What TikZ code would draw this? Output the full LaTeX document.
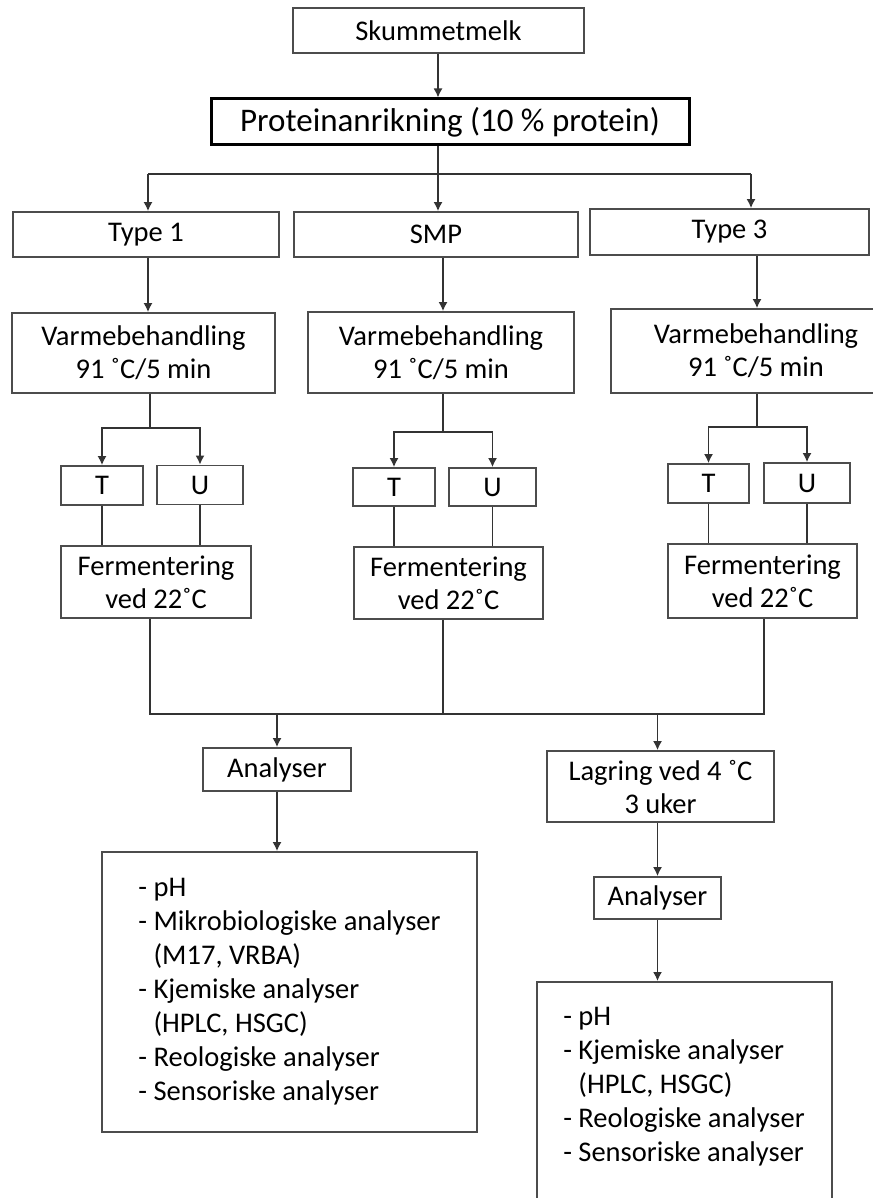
\documentclass[tikz,border=0pt]{standalone}
\usepackage{fontspec}
\setmainfont{Carlito}
\usetikzlibrary{arrows.meta}

\tikzset{
  box/.style={draw=black!70, line width=1.8pt, align=center, inner sep=0pt,
    font=\fontsize{28.5}{33}\selectfont},
  mainbox/.style={box, draw=black, line width=3pt, font=\fontsize{33}{38}\selectfont},
  listbox/.style={box, align=left, font=\fontsize{28.5}{34}\selectfont},
  link/.style={draw=black!80, line width=1.5pt},
  arr/.style={link, -{Latex[length=9pt,width=9pt]}}
}

\begin{document}
\begin{tikzpicture}[x=1pt,y=-1pt]
  \useasboundingbox (0,0) rectangle (872,1198);

  % top
  \node[box, minimum width=291pt, minimum height=45pt] (skim) at (438.5,30.5) {Skummetmelk};
  \node[mainbox, minimum width=478pt, minimum height=46pt] (prot) at (450,122) {Proteinanrikning (10 \% protein)};

  % powder types
  \node[box, minimum width=266pt, minimum height=45pt] (type1) at (146,234.5) {Type 1};
  \node[box, minimum width=284pt, minimum height=45pt] (smp) at (436,234.5) {SMP};
  \node[box, minimum width=279pt, minimum height=46pt] (type3) at (729.5,232) {Type 3};

  % heat treatment
  \node[box, minimum width=263pt, minimum height=80pt] (varme1) at (143.5,353) {Varmebehandling\\91 ˚C/5 min};
  \node[box, minimum width=266pt, minimum height=81pt] (varme2) at (441,352.5) {Varmebehandling\\91 ˚C/5 min};
  \node[box, minimum width=290pt, minimum height=84pt] (varme3) at (756,351) {Varmebehandling\\91 ˚C/5 min};

  % T and U
  \node[box, minimum width=82pt, minimum height=39pt] (t1) at (102,485.5) {T};
  \node[box, minimum width=86pt, minimum height=39pt] (u1) at (200,485) {U};
  \node[box, minimum width=82pt, minimum height=38pt] (t2) at (394,487) {T};
  \node[box, minimum width=87pt, minimum height=38pt] (u2) at (492.5,487) {U};
  \node[box, minimum width=81pt, minimum height=39pt] (t3) at (708.5,483.5) {T};
  \node[box, minimum width=86pt, minimum height=40pt] (u3) at (807,483) {U};

  % fermentation
  \node[box, minimum width=190pt, minimum height=72pt] (ferm1) at (156,582) {Fermentering\\ved 22˚C};
  \node[box, minimum width=189pt, minimum height=72pt] (ferm2) at (448.5,583) {Fermentering\\ved 22˚C};
  \node[box, minimum width=189pt, minimum height=74pt] (ferm3) at (762.5,581) {Fermentering\\ved 22˚C};

  % analyses
  \node[box, minimum width=148pt, minimum height=43pt] (ana1) at (277,769.5) {Analyser};
  \node[box, minimum width=227pt, minimum height=71pt] (lag) at (660.5,786.5) {Lagring ved 4 ˚C\\3 uker};
  \node[box, minimum width=127pt, minimum height=42pt] (ana2) at (657.5,898) {Analyser};
  \node[listbox, minimum width=375pt, minimum height=280pt] (res1) at (289.5,992)
    {- pH\\- Mikrobiologiske analyser\\\hphantom{- }(M17, VRBA)\\- Kjemiske analyser\\\hphantom{- }(HPLC, HSGC)\\- Reologiske analyser\\- Sensoriske analyser};
  \node[box, minimum width=295pt, minimum height=240pt, anchor=north] (res2) at (684.5,981) {};
  \node[listbox, draw=none] (res2txt) at (684,1087)
    {- pH\\- Kjemiske analyser\\\hphantom{- }(HPLC, HSGC)\\- Reologiske analyser\\- Sensoriske analyser};

  % junctions
  \coordinate (jtop) at (438,174);
  \coordinate (jl) at (148,174);
  \coordinate (jr) at (751,174);
  \coordinate (s1) at (150,428);
  \coordinate (s2) at (443,432);
  \coordinate (s3) at (757,427);
  \coordinate (b1) at (150,714);
  \coordinate (b2) at (443,714);
  \coordinate (b3) at (764,714);

  % connectors
  \draw[arr] (skim.south -| jtop) -- (prot.north -| jtop);
  \draw[link] (prot.south -| jtop) -- (jtop);
  \draw[link] (jl) -- (jr);
  \draw[arr] (jl) -- (jl |- type1.north);
  \draw[arr] (jtop) -- (jtop |- smp.north);
  \draw[arr] (jr) -- (jr |- type3.north);

  \draw[arr] (jl |- type1.south) -- (jl |- varme1.north);
  \draw[arr] (s2 |- smp.south) -- (s2 |- varme2.north);
  \draw[arr] (s3 |- type3.south) -- (s3 |- varme3.north);

  \draw[link] (s1 |- varme1.south) -- (s1);
  \draw[arr] (s1) -| (t1.north);
  \draw[arr] (s1) -| (u1.north);
  \draw[link] (s2 |- varme2.south) -- (s2);
  \draw[arr] (s2) -| (t2.north);
  \draw[arr] (s2) -| (u2.north);
  \draw[link] (s3 |- varme3.south) -- (s3);
  \draw[arr] (s3) -| (t3.north);
  \draw[arr] (s3) -| (u3.north);

  \draw[link] (t1.south) -- (t1.south |- ferm1.north);
  \draw[link] (u1.south) -- (u1.south |- ferm1.north);
  \draw[link] (t2.south) -- (t2.south |- ferm2.north);
  \draw[link] (u2.south) -- (u2.south |- ferm2.north);
  \draw[link] (t3.south) -- (t3.south |- ferm3.north);
  \draw[link] (u3.south) -- (u3.south |- ferm3.north);

  \draw[link] (b1 |- ferm1.south) -- (b1) -- (b3) -- (b3 |- ferm3.south);
  \draw[link] (b2 |- ferm2.south) -- (b2);
  \draw[arr] (ana1.north |- b1) -- (ana1.north);
  \draw[arr] (ana2.north |- b1) -- (ana2.north |- lag.north);

  \draw[arr] (ana1.south) -- (ana1.south |- res1.north);
  \draw[arr] (ana2.north |- lag.south) -- (ana2.north);
  \draw[arr] (ana2.south) -- (ana2.south |- res2.north);
\end{tikzpicture}
\end{document}
